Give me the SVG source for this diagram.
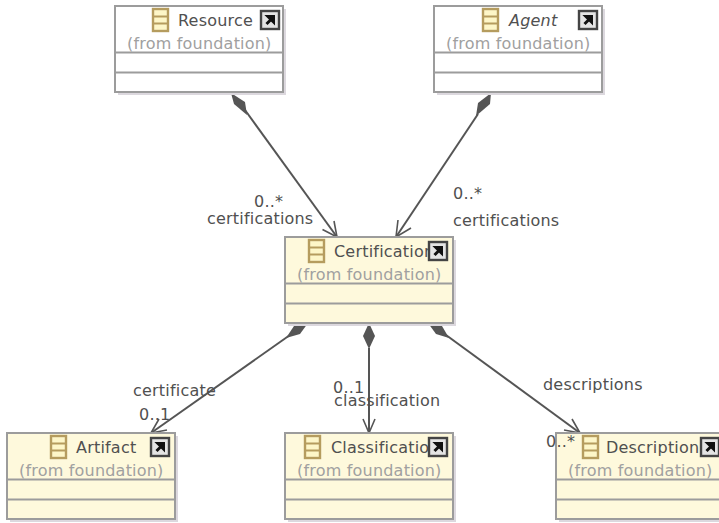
<svg xmlns="http://www.w3.org/2000/svg" width="719" height="523" viewBox="0 0 719 523">
<style>
text{font-family:"DejaVu Sans",sans-serif;font-size:16px;letter-spacing:.2px;fill:#505050}
.from{fill:#a0a0a0}
.box{fill:#fef9dc;stroke:#9c9c9c;stroke-width:2}
.white{fill:#fff}
.sh{fill:#dcd8de}
.sep{stroke:#9c9c9c;stroke-width:2;fill:none}
.con{stroke:#555;stroke-width:2;fill:none}
.dia{fill:#555;stroke:none}
.arr{stroke:#555;stroke-width:1.6;fill:none}
</style>
<defs>
<g id="cls">
<rect x="1" y="1" width="15" height="22" fill="#fdf6c8" stroke="#b59c5e" stroke-width="2.400"/>
<path d="M1 8.500H16M1 15.500H16" stroke="#b59c5e" stroke-width="1.800" fill="none"/>
</g>
<g id="lnk">
<rect x="1" y="1" width="18" height="18" fill="#e4e4e4" stroke="#444" stroke-width="2.400"/>
<path d="M6.500 14L11 9.500M8 6.500H13.500V12Z" stroke="#111" stroke-width="3" fill="#111"/>
</g>
<g id="frame">
<rect x="3" y="3" width="168" height="86" class="sh"/>
</g>
</defs>
<g id="connectors">
<path class="con" d="M245 110L337 237"/>
<path class="dia" d="M231 93L245 102L247 115L234 104Z"/>
<path class="arr" d="M322.500 229.500L337 237L334 221"/>
<path class="con" d="M478 114L396 237"/>
<path class="dia" d="M491 93L490 104L476 116L478 103Z"/>
<path class="arr" d="M398 220L396 237L411 228"/>
<path class="con" d="M290 335L151 433"/>
<path class="dia" d="M308 323L300 334L286 338L294 326Z"/>
<path class="arr" d="M167 430L151 433L159 419"/>
<path class="con" d="M369 348V433"/>
<path class="dia" d="M369 323L375 336L369 349L363 336Z"/>
<path class="arr" d="M363 419L369 433L375 419"/>
<path class="con" d="M446 335L580 433"/>
<path class="dia" d="M428 323L442 326L449 338L436 334Z"/>
<path class="arr" d="M572 419L580 433L564 430"/>
</g>
<g id="node-resource" transform="translate(115,6)">
<use href="#frame"/>
<rect width="168" height="86" class="box white"/>
<path class="sep" d="M0 46.500H168M0 66.500H168"/>
<use href="#cls" x="37" y="2"/>
<text x="63" y="20">Resource</text>
<text class="from" x="12" y="43">(from foundation)</text>
<use href="#lnk" x="145" y="4"/>
</g>
<g id="node-agent" transform="translate(434,6)">
<use href="#frame"/>
<rect width="168" height="86" class="box white"/>
<path class="sep" d="M0 46.500H168M0 66.500H168"/>
<use href="#cls" x="48" y="2"/>
<text x="75" y="20" font-style="italic">Agent</text>
<text class="from" x="12" y="43">(from foundation)</text>
<use href="#lnk" x="144" y="4"/>
</g>
<g id="node-certification" transform="translate(285,237)">
<use href="#frame"/>
<rect width="168" height="86" class="box"/>
<path class="sep" d="M0 46.500H168M0 66.500H168"/>
<use href="#cls" x="23" y="2"/>
<text x="49" y="20">Certification</text>
<text class="from" x="12" y="43">(from foundation)</text>
<use href="#lnk" x="143" y="4"/>
</g>
<g id="node-artifact" transform="translate(7,433)">
<use href="#frame"/>
<rect width="168" height="86" class="box"/>
<path class="sep" d="M0 46.500H168M0 66.500H168"/>
<use href="#cls" x="43" y="2"/>
<text x="69" y="20">Artifact</text>
<text class="from" x="12" y="43">(from foundation)</text>
<use href="#lnk" x="143" y="4"/>
</g>
<g id="node-classification" transform="translate(285,433)">
<use href="#frame"/>
<rect width="168" height="86" class="box"/>
<path class="sep" d="M0 46.500H168M0 66.500H168"/>
<use href="#cls" x="19" y="2"/>
<text x="46" y="20">Classification</text>
<text class="from" x="12" y="43">(from foundation)</text>
<use href="#lnk" x="143" y="4"/>
</g>
<g id="node-description" transform="translate(556,433)">
<use href="#frame"/>
<rect width="168" height="86" class="box"/>
<path class="sep" d="M0 46.500H168M0 66.500H168"/>
<use href="#cls" x="26" y="2"/>
<text x="50" y="20">Description</text>
<text class="from" x="12" y="43">(from foundation)</text>
<use href="#lnk" x="144" y="4"/>
</g>
<g id="labels">
<text x="254" y="207">0..*</text>
<text x="207" y="224">certifications</text>
<text x="453" y="199">0..*</text>
<text x="453" y="226">certifications</text>
<text x="133" y="396">certificate</text>
<text x="139" y="420">0..1</text>
<text x="333" y="393">0..1</text>
<text x="334" y="406">classification</text>
<text x="543" y="390">descriptions</text>
<text x="546" y="447">0..*</text>
</g>
</svg>
